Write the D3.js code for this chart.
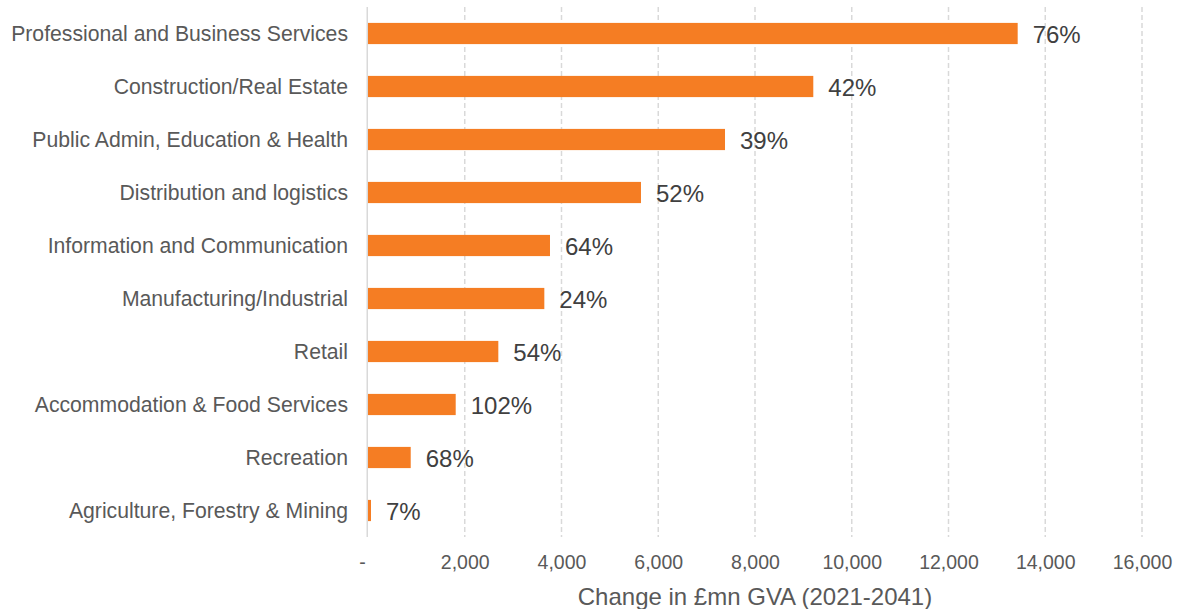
<!DOCTYPE html>
<html>
<head>
<meta charset="utf-8">
<script src="https://cdn.jsdelivr.net/npm/d3@7"></script>
<style>
  body { margin: 0; background: #fff; }
  svg { font-family: "Liberation Sans", Arial, sans-serif; }
</style>
</head>
<body>
<svg width="1191" height="609"></svg>
<script>
// sectors, top to bottom
const sectors = [
  "Professional and Business Services",
  "Construction/Real Estate",
  "Public Admin, Education & Health",
  "Distribution and logistics",
  "Information and Communication",
  "Manufacturing/Industrial",
  "Retail",
  "Accommodation & Food Services",
  "Recreation",
  "Agriculture, Forestry & Mining"
];
// change in £mn GVA 2021-2041
const gvaChange = [13430, 9205, 7380, 5643, 3762, 3645, 2694, 1813, 883, 62];
// percentage growth labels
const pctChange = ["76%", "42%", "39%", "52%", "64%", "24%", "54%", "102%", "68%", "7%"];
const xTicks = [0, 2000, 4000, 6000, 8000, 10000, 12000, 14000, 16000];

const svg = d3.select("svg");

const x = d3.scaleLinear().domain([0, 16000]).range([368, 1142]);
const y = d3.scaleBand().domain(sectors).range([7, 537])
  .paddingInner(0.6).paddingOuter(0.3);

// dashed gridlines
svg.append("g")
  .selectAll("line")
  .data(xTicks.slice(1))
  .enter().append("line")
  .attr("x1", d => x(d)).attr("x2", d => x(d))
  .attr("y1", 7).attr("y2", 537)
  .attr("stroke", "#d9d9d9")
  .attr("stroke-width", 1.5)
  .attr("stroke-dasharray", "5,3");

// category axis line
svg.append("line")
  .attr("x1", x(0) - 0.75).attr("x2", x(0) - 0.75)
  .attr("y1", 7).attr("y2", 537)
  .attr("stroke", "#d9d9d9")
  .attr("stroke-width", 1.5);

// bars
svg.append("g")
  .selectAll("rect")
  .data(sectors)
  .enter().append("rect")
  .attr("x", x(0))
  .attr("y", d => y(d))
  .attr("width", (d, i) => x(gvaChange[i]) - x(0))
  .attr("height", y.bandwidth())
  .attr("fill", "#f57d23");

// value labels
svg.append("g")
  .selectAll("text")
  .data(sectors)
  .enter().append("text")
  .attr("x", (d, i) => x(gvaChange[i]) + 15)
  .attr("y", d => y(d) + y.bandwidth() / 2 + 1)
  .attr("dy", "0.36em")
  .attr("font-size", 24)
  .attr("fill", "#404040")
  .text((d, i) => pctChange[i]);

// category labels
const yAxis = svg.append("g")
  .attr("transform", `translate(${x(0) - 20},0)`)
  .call(d3.axisLeft(y).tickSize(0).tickPadding(0));
yAxis.select(".domain").remove();
yAxis.selectAll("text")
  .attr("font-size", 21.2)
  .attr("fill", "#595959")
  .attr("dy", "0.36em");

// x axis
const xAxis = svg.append("g")
  .attr("transform", "translate(0,562)")
  .call(d3.axisBottom(x).tickValues(xTicks).tickSize(0).tickPadding(0)
    .tickFormat(d => d === 0 ? "-" : d3.format(",")(d)));
xAxis.select(".domain").remove();
xAxis.selectAll("text")
  .attr("font-size", 19.5)
  .attr("fill", "#595959")
  .attr("dy", "0.36em")
  .attr("dx", d => d === 0 ? -6 : 0);

// axis title
svg.append("text")
  .attr("x", 755)
  .attr("y", 596)
  .attr("dy", "0.36em")
  .attr("text-anchor", "middle")
  .attr("font-size", 24)
  .attr("fill", "#595959")
  .text("Change in £mn GVA (2021-2041)");
</script>
</body>
</html>
